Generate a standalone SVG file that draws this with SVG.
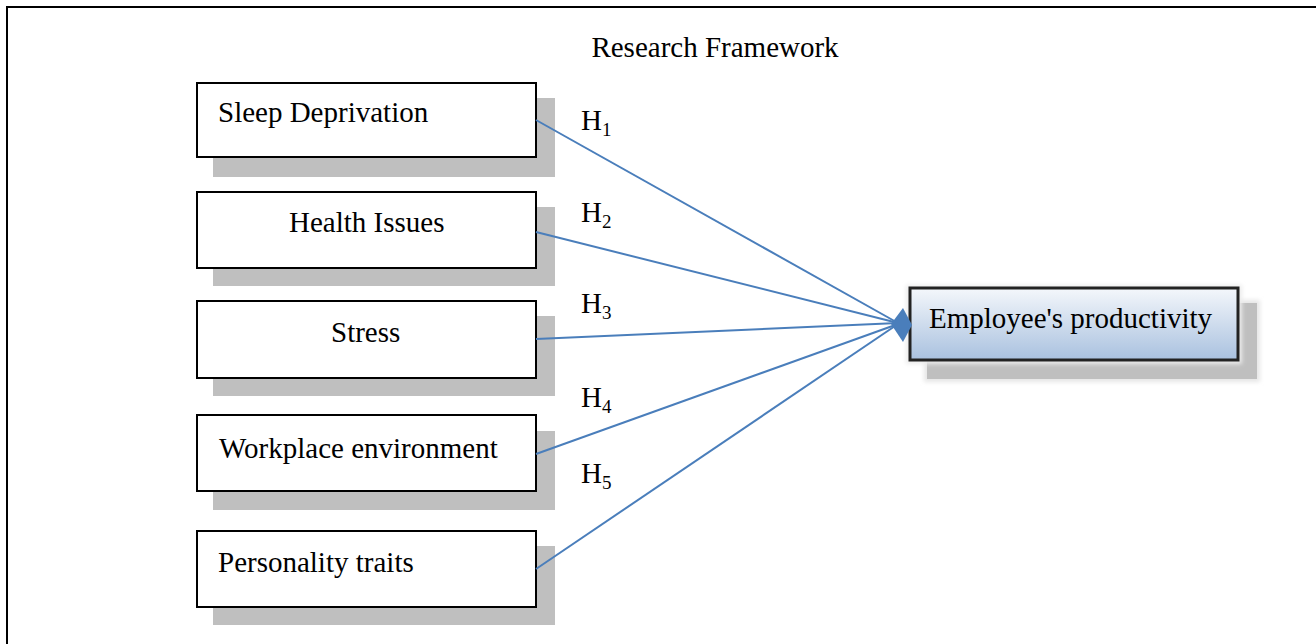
<svg xmlns="http://www.w3.org/2000/svg" width="1316" height="644" viewBox="0 0 1316 644">
  <style>
    .t { font-family: "Liberation Serif", "Times New Roman", serif; font-size: 29px; fill: #000; }
    .sub { font-size: 19px; }
    .box { fill: #fff; stroke: #000; stroke-width: 2; }
    .shadow { fill: #bfbfbf; }
    .link { stroke: #4a7ebb; stroke-width: 2; fill: none; }
  </style>
  <defs>
    <linearGradient id="outFill" x1="0" y1="0" x2="0" y2="1">
      <stop offset="0" stop-color="#f4f7fb"/>
      <stop offset="1" stop-color="#a9c1df"/>
    </linearGradient>
    <filter id="halo" x="-10%" y="-30%" width="120%" height="160%">
      <feGaussianBlur stdDeviation="2"/>
    </filter>
  </defs>

  <rect width="1316" height="644" fill="#fff"/>
  <!-- outer frame, open to the right and bottom -->
  <path d="M7,660 L7,7 L1330,7" fill="none" stroke="#000" stroke-width="2"/>

  <text class="t" x="715" y="57" text-anchor="middle">Research Framework</text>

  <g id="sleep">
    <rect class="shadow" x="213" y="98" width="342" height="79"/>
    <rect class="box" x="197" y="83" width="339" height="74"/>
    <text class="t" x="218" y="122">Sleep Deprivation</text>
  </g>
  <g id="health">
    <rect class="shadow" x="213" y="207" width="342" height="79"/>
    <rect class="box" x="197" y="192" width="339" height="76"/>
    <text class="t" x="289" y="232">Health Issues</text>
  </g>
  <g id="stress">
    <rect class="shadow" x="213" y="316" width="342" height="80"/>
    <rect class="box" x="197" y="301" width="339" height="77"/>
    <text class="t" x="331" y="342">Stress</text>
  </g>
  <g id="workplace">
    <rect class="shadow" x="213" y="431" width="342" height="79"/>
    <rect class="box" x="197" y="415" width="339" height="76"/>
    <text class="t" x="219" y="458">Workplace environment</text>
  </g>
  <g id="personality">
    <rect class="shadow" x="213" y="546" width="342" height="79"/>
    <rect class="box" x="197" y="531" width="339" height="76"/>
    <text class="t" x="218" y="572">Personality traits</text>
  </g>

  <g id="productivity">
    <rect x="924" y="300" width="336" height="82" fill="#e6e6e6" filter="url(#halo)"/>
    <rect class="shadow" x="927" y="303" width="330" height="76"/>
    <rect x="906" y="285" width="336" height="79" fill="#ececec" filter="url(#halo)"/>
    <rect x="910" y="288" width="328" height="72" fill="url(#outFill)" stroke="#222" stroke-width="3"/>
    <text class="t" x="929" y="328">Employee's productivity</text>
  </g>

  <g id="connectors">
    <line class="link" x1="536" y1="120" x2="898" y2="323"/>
    <line class="link" x1="536" y1="232" x2="898" y2="323"/>
    <line class="link" x1="536" y1="339" x2="898" y2="323"/>
    <line class="link" x1="536" y1="454" x2="898" y2="324"/>
    <line class="link" x1="536" y1="569" x2="898" y2="324"/>
    <polygon points="891,324 903,308 912,325 903,342" fill="#4a7ebb"/>
  </g>

  <g id="labels">
    <text class="t" x="581" y="130">H<tspan class="sub" dy="6">1</tspan></text>
    <text class="t" x="581" y="222">H<tspan class="sub" dy="6">2</tspan></text>
    <text class="t" x="581" y="313">H<tspan class="sub" dy="6">3</tspan></text>
    <text class="t" x="581" y="407">H<tspan class="sub" dy="6">4</tspan></text>
    <text class="t" x="581" y="483">H<tspan class="sub" dy="6">5</tspan></text>
  </g>
</svg>
